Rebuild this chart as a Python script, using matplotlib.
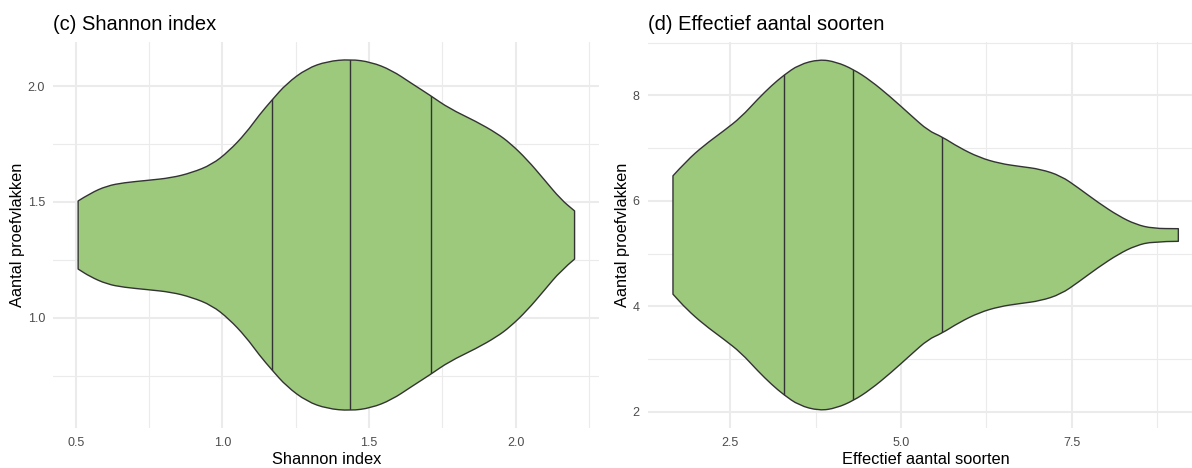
import matplotlib
import matplotlib.pyplot as plt
import numpy as np
from matplotlib.patches import PathPatch
from matplotlib.path import Path

matplotlib.use('Agg')

# Shannon index violin: outline half-width at positions along x
shannon_x = [0.508, 0.549, 0.606, 0.664, 0.745, 0.826, 0.895, 0.964, 1.022, 1.080,
             1.126, 1.169, 1.219, 1.288, 1.357, 1.436, 1.507, 1.577, 1.646, 1.710,
             1.773, 1.866, 1.935, 1.981, 2.039, 2.097, 2.154, 2.201]
shannon_hw = [0.147, 0.180, 0.212, 0.226, 0.236, 0.247, 0.269, 0.304, 0.362, 0.440,
              0.519, 0.583, 0.654, 0.719, 0.750, 0.759, 0.747, 0.712, 0.654, 0.602,
              0.547, 0.490, 0.440, 0.397, 0.326, 0.240, 0.154, 0.104]
shannon_center = 1.357
shannon_quantiles = [1.169, 1.436, 1.710]

# Effective number of species violin
soorten_x = [1.663, 1.863, 2.112, 2.410, 2.659, 2.908, 3.108, 3.282, 3.506, 3.805,
             4.054, 4.303, 4.552, 4.851, 5.149, 5.398, 5.598, 5.847, 6.145, 6.444,
             6.743, 7.042, 7.341, 7.590, 7.888, 8.187, 8.436, 8.685, 9.059]
soorten_hw = [1.122, 1.407, 1.693, 1.978, 2.232, 2.582, 2.835, 3.026, 3.229, 3.331,
              3.280, 3.140, 2.931, 2.613, 2.264, 1.978, 1.864, 1.661, 1.470, 1.356,
              1.299, 1.248, 1.121, 0.899, 0.613, 0.359, 0.201, 0.124, 0.120]
soorten_center = 5.355
soorten_quantiles = [3.282, 4.303, 5.598]

shannon_xticks = [0.5, 1.0, 1.5, 2.0]
shannon_yticks = [1.0, 1.5, 2.0]
soorten_xticks = [2.5, 5.0, 7.5]
soorten_yticks = [2, 4, 6, 8]

FIG_W, FIG_H = 1192, 468
FILL = '#9cc97c'
EDGE = '#333333'
GRID = '#ebebeb'
TICK_COLOR = '#4d4d4d'
FONT = ['Liberation Sans', 'DejaVu Sans']

plt.rcParams['font.family'] = FONT


def px_box(left, top, right, bottom):
    """Axes rectangle from pixel edges (origin top-left)."""
    return [left / FIG_W, 1 - bottom / FIG_H, (right - left) / FIG_W, (bottom - top) / FIG_H]


def expand(lo, hi, frac=0.05):
    pad = (hi - lo) * frac
    return lo - pad, hi + pad


def minor_breaks(ticks):
    step = ticks[1] - ticks[0]
    return [t - step / 2 for t in ticks] + [ticks[-1] + step / 2]


def smooth_edge(pts):
    """Quadratic bezier pieces through the midpoints, points act as control points."""
    verts, codes = [], []
    for i in range(1, len(pts) - 1):
        mid = (pts[i] + pts[i + 1]) / 2
        verts += [pts[i], mid]
        codes += [Path.CURVE3, Path.CURVE3]
    verts.append(pts[-1])
    codes.append(Path.LINETO)
    return verts, codes


def violin_path(xs, hws, center):
    upper = np.column_stack([xs, center + hws])
    lower = np.column_stack([xs, center - hws])[::-1]
    verts, codes = [upper[0]], [Path.MOVETO]
    v, c = smooth_edge(upper)
    verts += v
    codes += c
    verts.append(lower[0])
    codes.append(Path.LINETO)
    v, c = smooth_edge(lower)
    verts += v
    codes += c
    verts.append(upper[0])
    codes.append(Path.CLOSEPOLY)
    return Path(np.array(verts), codes)


def draw_violin(ax, xs, hws, center, quantiles, xticks, yticks, fmt_y):
    xs = np.asarray(xs)
    hws = np.asarray(hws)
    patch = PathPatch(violin_path(xs, hws, center), facecolor=FILL, edgecolor=EDGE,
                      linewidth=1.0, joinstyle='round', zorder=3)
    ax.add_patch(patch)
    for q in quantiles:
        h = np.interp(q, xs, hws) + 0.05 * hws.max()
        line, = ax.plot([q, q], [center - h, center + h], color=EDGE,
                        linewidth=1.0, zorder=4)
        line.set_clip_path(patch)

    ax.set_xticks(xticks)
    ax.set_yticks(yticks)
    ax.set_xticklabels([f'{t:.1f}' for t in xticks])
    ax.set_yticklabels([fmt_y(t) for t in yticks])
    ax.set_xticks(minor_breaks(xticks), minor=True)
    ax.set_yticks(minor_breaks(yticks), minor=True)

    # limits last so the tick lists do not widen the view
    ax.set_xlim(*expand(xs.min(), xs.max()))
    ax.set_ylim(*expand(center - hws.max(), center + hws.max()))

    ax.grid(True, which='major', color=GRID, linewidth=1.5, zorder=0)
    ax.grid(True, which='minor', color=GRID, linewidth=0.8, zorder=0)
    ax.set_axisbelow(True)
    ax.tick_params(which='both', length=0, labelsize=9, labelcolor=TICK_COLOR)
    ax.tick_params(axis='x', pad=6)
    ax.tick_params(axis='y', pad=6)
    for s in ax.spines.values():
        s.set_visible(False)


fig = plt.figure(figsize=(FIG_W / 100, FIG_H / 100), dpi=100)

ax1 = fig.add_axes(px_box(53.3, 41.7, 599.4, 428.3))
draw_violin(ax1, shannon_x, shannon_hw, shannon_center, shannon_quantiles,
            shannon_xticks, shannon_yticks, lambda t: f'{t:.1f}')

ax2 = fig.add_axes(px_box(647.7, 41.7, 1203.6, 428.3))
draw_violin(ax2, soorten_x, soorten_hw, soorten_center, soorten_quantiles,
            soorten_xticks, soorten_yticks, lambda t: f'{t:d}')

for ax, title, xlabel, ylab_x in [
    (ax1, '(c) Shannon index', 'Shannon index', 17.5),
    (ax2, '(d) Effectief aantal soorten', 'Effectief aantal soorten', 622),
]:
    bbox = ax.get_position()
    fig.text(bbox.x0, 1 - 24 / FIG_H, title, fontsize=14.5, ha='left', va='center')
    fig.text(bbox.x0 + bbox.width / 2, 1 - 460 / FIG_H, xlabel,
             fontsize=11.8, ha='center', va='center')
    fig.text(ylab_x / FIG_W, bbox.y0 + bbox.height / 2, 'Aantal proefvlakken',
             fontsize=11.8, rotation=90, ha='center', va='center')

fig.savefig('out.png', dpi=100)
